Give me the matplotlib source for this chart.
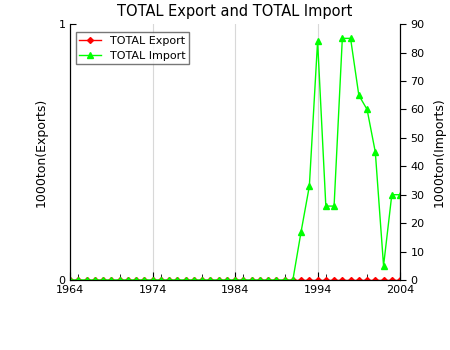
import matplotlib
matplotlib.use("Agg")
import matplotlib.pyplot as plt
from matplotlib.ticker import MultipleLocator

# Data
years = list(range(1964, 2005))
export_tons = [0] * len(years)
import_tons = [0] * 28 + [17, 33, 84, 26, 26, 85, 85, 65, 60, 45, 5, 30, 30]

fig = plt.figure(figsize=(4.5, 3.5), dpi=100)
ax = fig.add_axes([0.156, 0.2, 0.733, 0.731])
ax2 = ax.twinx()

# Export on left axis
ax.plot(years, export_tons, color="red", marker="D", markersize=3, linewidth=1,
        label="TOTAL Export", zorder=3)
ax.set_ylim(0, 1)
ax.set_yticks([0, 1])
ax.set_xlim(1964, 2004)
ax.set_xticks([1964, 1974, 1984, 1994, 2004])
ax.xaxis.set_minor_locator(MultipleLocator(5))
ax.grid(axis="x", color="#d8d8d8", linewidth=0.8)
ax.set_axisbelow(True)
ax.tick_params(axis="both", which="both", direction="in", labelsize=8, length=4)
ax.tick_params(axis="x", which="major", length=6)
ax.set_ylabel("1000ton(Exports)", fontsize=9, labelpad=8)

# Import on right axis
ax2.plot(years, import_tons, color="#00ff00", marker="^", markersize=4, linewidth=1,
         label="TOTAL Import")
ax2.set_ylim(0, 90)
ax2.set_yticks(range(0, 91, 10))
ax2.tick_params(axis="y", direction="out", labelsize=8, length=4)
ax2.set_ylabel("1000ton(Imports)", fontsize=9, labelpad=6)

for a in (ax, ax2):
    a.spines["top"].set_visible(False)

ax.set_title("TOTAL Export and TOTAL Import", fontsize=10.5)

h1, l1 = ax.get_legend_handles_labels()
h2, l2 = ax2.get_legend_handles_labels()
leg = ax2.legend(h1 + h2, l1 + l2, loc="upper left", fontsize=8, fancybox=False,
                 edgecolor="#555555", borderpad=0.3, handlelength=2,
                 bbox_to_anchor=(0.0, 0.99))
leg.get_frame().set_linewidth(1)

fig.savefig("out.png", dpi=100)
